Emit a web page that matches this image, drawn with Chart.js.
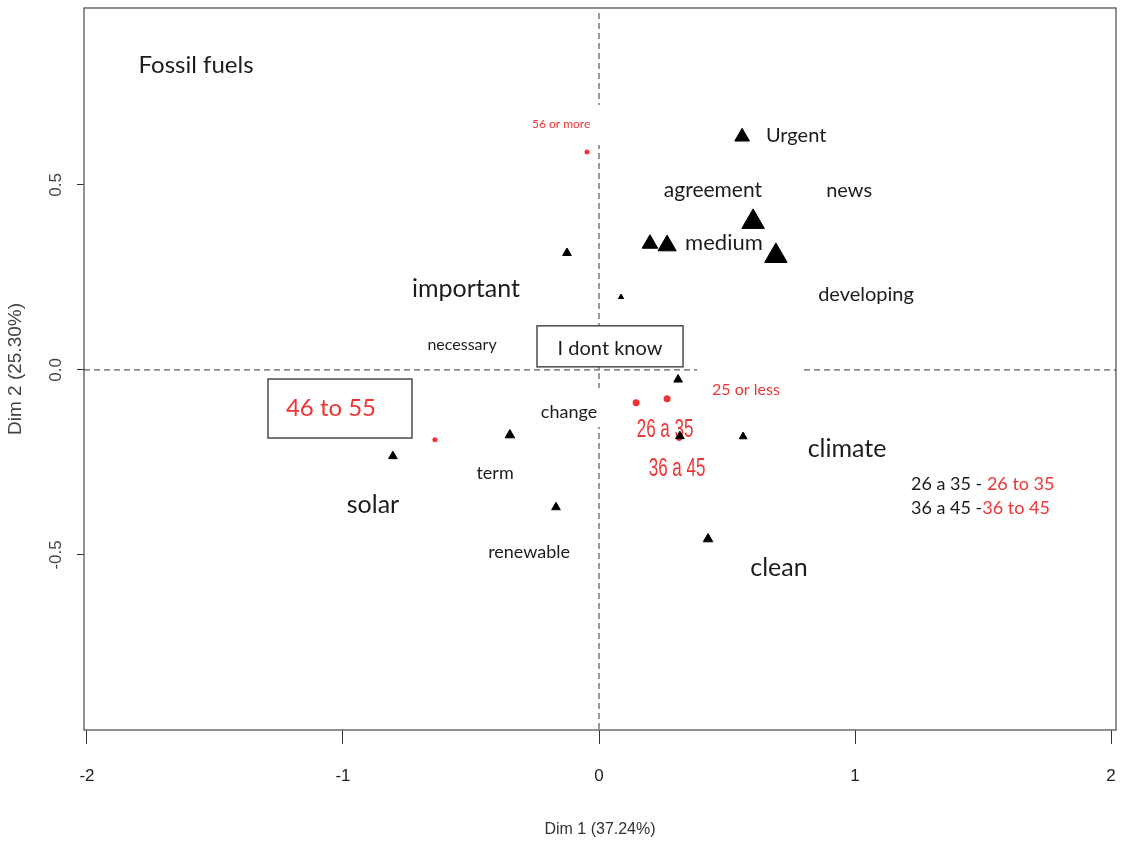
<!DOCTYPE html>
<html>
<head>
<meta charset="utf-8">
<script src="https://cdn.jsdelivr.net/npm/chart.js@4.4.0/dist/chart.umd.min.js"></script>
<style>
  html, body { margin: 0; padding: 0; background: #fff; }
  canvas { display: block; }
</style>
</head>
<body>
<canvas id="mca" width="1126" height="845"></canvas>
<script>
// axis ticks
const xTicks = [-2, -1, 0, 1, 2];
const yTicks = [-0.5, 0, 0.5];

// variable categories (black triangles)
const triX = [0.559, 0.602, 0.691, 0.199, 0.266, -0.125, 0.086, 0.309, -0.348, 0.316, 0.563, -0.805, -0.168, 0.426];
const triY = [0.630, 0.400, 0.308, 0.341, 0.336, 0.316, 0.197, -0.026, -0.176, -0.179, -0.180, -0.233, -0.371, -0.457];

// age groups (red points)
const ageX = [-0.047, 0.145, 0.266, -0.641, 0.313];
const ageY = [0.589, -0.089, -0.078, -0.189, -0.184];

// word labels
const words = ["Fossil fuels", "Urgent", "agreement", "news", "medium", "important", "developing",
  "necessary", "I dont know", "25 or less", "46 to 55", "change", "26 a 35", "36 a 45",
  "climate", "term", "solar", "renewable", "clean", "56 or more"];
const wordX = [-1.574, 0.770, 0.445, 0.977, 0.488, -0.520, 1.043, -0.535, 0.043, 0.574, -1.047,
  -0.117, 0.258, 0.305, 0.969, -0.406, -0.883, -0.273, 0.703, -0.148];
const wordY = [0.824, 0.632, 0.486, 0.486, 0.343, 0.219, 0.205, 0.068, 0.057, -0.054, -0.103,
  -0.114, -0.162, -0.268, -0.214, -0.278, -0.365, -0.492, -0.535, 0.665];

// translation key (bottom right)
const keyBlack = ["26 a 35 - ", "36 a 45 -"];
const keyRed = ["26 to 35", "36 to 45"];
const keyX = [1.219, 1.219];
const keyY = [-0.308, -0.373];

// ---- styles ----
const LATO = "Lato, 'Open Sans', sans-serif";
const ARIAL = "'Liberation Sans', Arial, sans-serif";
const RED = "#ee3535";
const INK = "#1c1c1c";

const triRadius = [8.5, 13, 13, 9, 10.5, 5, 3, 5, 5.5, 5, 4.5, 5, 5, 5.5];

const wordStyle = {
  "Fossil fuels": { size: 24 },
  "Urgent": { size: 20 },
  "agreement": { size: 21 },
  "news": { size: 20 },
  "medium": { size: 22 },
  "important": { size: 25 },
  "developing": { size: 20 },
  "necessary": { size: 16 },
  "I dont know": { size: 20, box: [0, -2.5, 146, 41] },
  "25 or less": { size: 16, color: RED },
  "46 to 55": { size: 24, color: RED, box: [9, 0.5, 144, 59] },
  "change": { size: 18 },
  "26 a 35": { size: 25, color: RED, family: ARIAL, scaleX: 0.68 },
  "36 a 45": { size: 25, color: RED, family: ARIAL, scaleX: 0.68 },
  "climate": { size: 25 },
  "term": { size: 18 },
  "solar": { size: 25 },
  "renewable": { size: 18 },
  "clean": { size: 25 },
  "56 or more": { size: 12, color: RED }
};

// white patches over the reference lines [x1, x2, y1, y2]
const whiteouts = [
  [0.383, 0.797, -0.012, 0.012],
  [-0.02, 0.02, 0.608, 0.716],
  [-0.02, 0.02, -0.154, -0.049]
];

const overlay = {
  id: "overlay",
  beforeDatasetsDraw(chart) {
    const { ctx, chartArea: a, scales: { x, y } } = chart;
    ctx.save();
    ctx.strokeStyle = "#555";
    ctx.lineWidth = 1.3;
    ctx.strokeRect(a.left, a.top, a.right - a.left, a.bottom - a.top);

    const x0 = x.getPixelForValue(0);
    const y0 = y.getPixelForValue(0);
    ctx.setLineDash([6, 4]);
    ctx.strokeStyle = "#333";
    ctx.lineWidth = 1;
    ctx.beginPath();
    ctx.moveTo(x0, a.top + 5);
    ctx.lineTo(x0, a.bottom);
    ctx.moveTo(a.left, y0);
    ctx.lineTo(a.right, y0);
    ctx.stroke();
    ctx.setLineDash([]);

    ctx.fillStyle = "#fff";
    whiteouts.forEach(w => {
      const l = x.getPixelForValue(w[0]), r = x.getPixelForValue(w[1]);
      const t = y.getPixelForValue(w[3]), b = y.getPixelForValue(w[2]);
      ctx.fillRect(l, t, r - l, b - t);
    });

    // word labels sit under the markers
    ctx.textBaseline = "middle";
    words.forEach((w, i) => {
      const s = wordStyle[w] || {};
      const px = x.getPixelForValue(wordX[i]);
      const py = y.getPixelForValue(wordY[i]);
      if (s.box) {
        const [dx, dy, bw, bh] = s.box;
        ctx.fillStyle = "#fff";
        ctx.fillRect(px + dx - bw / 2, py + dy - bh / 2, bw, bh);
        ctx.strokeStyle = "#4a4a4a";
        ctx.lineWidth = 1.5;
        ctx.strokeRect(px + dx - bw / 2, py + dy - bh / 2, bw, bh);
      }
      ctx.font = s.size + "px " + (s.family || LATO);
      ctx.fillStyle = s.color || INK;
      ctx.textAlign = "center";
      if (s.scaleX) {
        ctx.save();
        ctx.translate(px, py);
        ctx.scale(s.scaleX, 1);
        ctx.fillText(w, 0, 0);
        ctx.restore();
      } else {
        ctx.fillText(w, px, py);
      }
    });

    // key
    ctx.textAlign = "left";
    ctx.font = "18px " + LATO;
    keyBlack.forEach((t, i) => {
      const px = x.getPixelForValue(keyX[i]);
      const py = y.getPixelForValue(keyY[i]);
      ctx.fillStyle = INK;
      ctx.fillText(t, px, py);
      const wpx = ctx.measureText(t).width;
      ctx.fillStyle = RED;
      ctx.fillText(keyRed[i], px + wpx, py);
    });
    ctx.restore();
  }
};

new Chart(document.getElementById("mca"), {
  type: "scatter",
  data: {
    datasets: [
      {
        label: "variables",
        data: triX.map((v, i) => ({ x: v, y: triY[i] })),
        pointStyle: "triangle",
        pointRadius: triRadius,
        backgroundColor: "#000",
        borderColor: "#000",
        borderWidth: 1
      },
      {
        label: "age",
        data: ageX.map((v, i) => ({ x: v, y: ageY[i] })),
        pointStyle: "circle",
        pointRadius: [2.5, 3.5, 3.5, 2.5, 3],
        backgroundColor: RED,
        borderColor: RED,
        borderWidth: 0
      }
    ]
  },
  options: {
    responsive: false,
    animation: false,
    devicePixelRatio: 1,
    events: [],
    layout: { autoPadding: false, padding: { top: 8, right: 10, left: 0, bottom: 0 } },
    plugins: { legend: { display: false }, tooltip: { enabled: false } },
    scales: {
      x: {
        type: "linear",
        min: -2.0117,
        max: 2.0195,
        afterFit: s => { s.height = 115; s.paddingLeft = 0; s.paddingRight = 0; },
        afterBuildTicks: s => { s.ticks = xTicks.map(v => ({ value: v })); },
        border: { display: false },
        grid: { drawOnChartArea: false, drawTicks: true, tickLength: 14, color: "#333", lineWidth: 1 },
        ticks: {
          padding: 22,
          color: "#222",
          font: { family: ARIAL, size: 17 },
          callback: v => String(v)
        },
        title: {
          display: true,
          text: "Dim 1 (37.24%)",
          color: "#333",
          font: { family: ARIAL, size: 16 },
          padding: { top: 0, bottom: 6 }
        }
      },
      y: {
        type: "linear",
        min: -0.973,
        max: 0.978,
        afterFit: s => { s.width = 84; s.paddingTop = 0; s.paddingBottom = 0; },
        afterBuildTicks: s => { s.ticks = yTicks.map(v => ({ value: v })); },
        border: { display: false },
        grid: { drawOnChartArea: false, drawTicks: true, tickLength: 7, color: "#333", lineWidth: 1 },
        ticks: {
          padding: 6,
          minRotation: 90,
          maxRotation: 90,
          crossAlign: "center",
          color: "#444",
          font: { family: ARIAL, size: 17 },
          callback: v => v.toFixed(1)
        },
        title: {
          display: true,
          text: "Dim 2 (25.30%)",
          color: "#444",
          font: { family: ARIAL, size: 19 },
          padding: { top: 4, bottom: 0 }
        }
      }
    }
  },
  plugins: [overlay]
});
</script>
</body>
</html>
